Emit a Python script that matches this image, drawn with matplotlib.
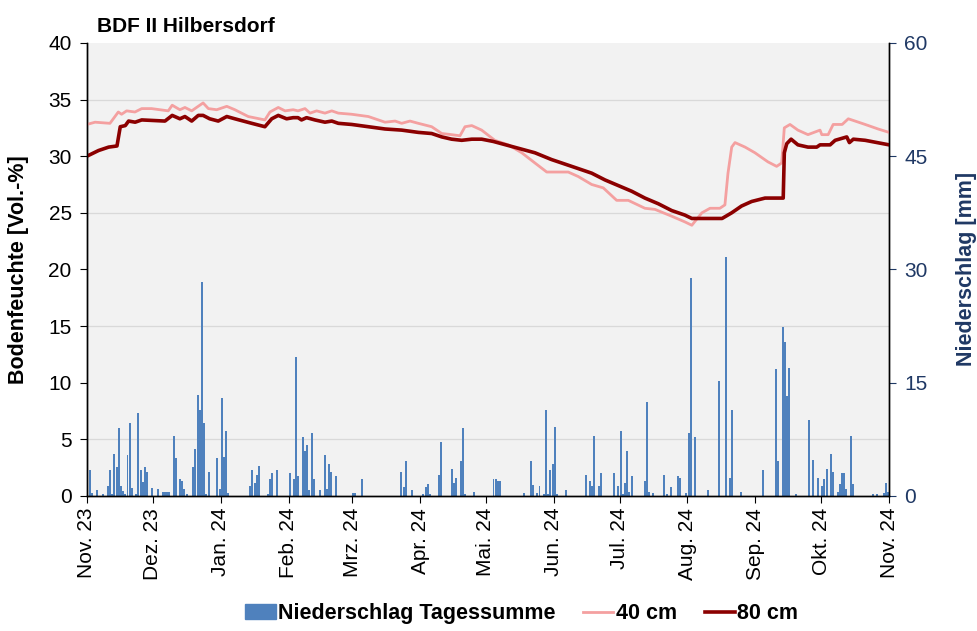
import matplotlib
matplotlib.use("Agg")
import matplotlib.pyplot as plt
from matplotlib.patches import Patch
from matplotlib.lines import Line2D
import numpy as np
import pandas as pd

plt.rcParams['font.family'] = ['Liberation Sans', 'DejaVu Sans']

start = pd.Timestamp("2023-11-01")

# Tagesniederschlag: Tag seit 1.11.2023, Summe in mm
rain_day = [1, 2, 4, 7, 9, 10, 11, 12, 13, 14, 15, 16, 17, 18, 19, 20, 22, 23, 24, 25,
            26, 27, 29, 32, 34, 35, 36, 37, 39, 40, 42, 43, 44, 45, 48, 49, 50, 51, 52, 53,
            54, 55, 59, 60, 61, 62, 63, 64, 74, 75, 76, 77, 78, 82, 83, 84, 86, 92, 94, 95,
            96, 98, 99, 100, 101, 102, 103, 106, 108, 109, 110, 111, 113, 121, 122, 125, 143, 144, 145, 148,
            153, 154, 155, 156, 160, 161, 166, 167, 168, 170, 171, 172, 176, 185, 186, 187, 188, 199, 202, 203,
            205, 206, 208, 209, 210, 211, 212, 213, 214, 218, 227, 229, 230, 231, 233, 234, 240, 242, 243, 244,
            245, 246, 247, 248, 254, 255, 256, 258, 263, 264, 266, 269, 270, 273, 274, 275, 277, 283, 288, 291,
            293, 294, 298, 308, 314, 315, 317, 318, 319, 320, 323, 329, 331, 333, 335, 336, 337, 339, 340, 342,
            343, 344, 345, 346, 348, 349, 358, 360, 363, 364, 365]
rain_mm = [3.5, 0.4, 0.8, 0.2, 1.3, 3.5, 0.2, 5.6, 3.8, 9.0, 1.3, 0.6, 0.2, 5.4, 9.6, 1.1, 0.2, 11.0, 3.5, 1.8,
           3.8, 3.2, 1.1, 0.9, 0.5, 0.5, 0.5, 0.5, 7.9, 5.0, 2.3, 2.0, 0.9, 0.2, 3.8, 6.2, 13.4, 11.4, 28.3, 9.7,
           0.3, 3.2, 5.0, 0.9, 13.0, 5.1, 8.6, 0.4, 1.3, 3.4, 1.7, 2.8, 4.0, 0.2, 2.3, 3.1, 3.4, 3.0, 2.3, 18.4,
           2.6, 7.8, 5.9, 6.8, 0.8, 8.3, 2.3, 0.8, 5.4, 0.9, 4.2, 3.2, 2.6, 0.4, 0.4, 2.3, 3.2, 1.2, 4.6, 0.8,
           0.2, 1.2, 1.6, 0.2, 2.8, 7.1, 3.6, 1.7, 2.4, 4.6, 9.0, 0.3, 0.5, 2.3, 2.3, 2.0, 2.0, 0.4, 4.6, 1.5,
           0.4, 1.3, 0.2, 11.4, 0.2, 3.4, 4.2, 9.1, 0.2, 0.8, 2.8, 2.0, 1.3, 7.9, 1.3, 3.0, 3.0, 1.3, 8.6, 0.2,
           1.7, 5.9, 0.5, 2.6, 2.0, 12.5, 0.5, 0.4, 2.8, 0.3, 1.2, 2.6, 2.4, 0.4, 8.4, 28.8, 7.8, 0.8, 15.2, 31.7,
           2.4, 11.4, 0.5, 3.4, 16.8, 4.6, 22.4, 20.4, 13.2, 17.0, 0.2, 10.1, 4.8, 2.4, 1.3, 2.3, 3.6, 5.6, 3.2, 0.5,
           1.6, 3.0, 3.0, 0.9, 7.9, 1.6, 0.2, 0.2, 0.4, 1.7, 0.5]

# Bodenfeuchte 40 cm
d40_day = [0, 3.7, 10.5, 14.3, 15.8, 18.1, 21.9, 25, 29.5, 37.1, 38.9, 42.4, 44.7, 47.8, 50, 53, 55.4, 59.2,
           63.8, 67.5, 73.6, 81.2, 83.5, 87.3, 90.4, 94.1, 96.3, 99.5, 101.8, 104.8, 108.6, 111.7, 114.7, 120.8,
           128.4, 136, 140.6, 143.6, 147.4, 151.2, 157.3, 161.9, 166.4, 170.2, 172.5, 175.6, 180.1, 186.1, 192.3,
           198.4, 204.4, 209.8, 219.6, 224.2, 230.3, 235.6, 241.7, 247, 254.6, 259.2, 266.8, 272.8, 276, 280.6,
           284.3, 288.8, 291.1, 292.5, 294.2, 295.7, 300.3, 304.8, 310.7, 314.7, 317, 318.2, 320.8, 324.4, 329,
           334.5, 335.3, 338.2, 340.5, 344.6, 347.4, 350.5, 355.1, 361, 366]
d40_val = [32.8, 33.0, 32.9, 33.9, 33.7, 34.0, 33.9, 34.2, 34.2, 34.0, 34.5, 34.1, 34.3, 34.0, 34.3, 34.7, 34.2, 34.1,
           34.4, 34.1, 33.5, 33.2, 33.9, 34.3, 34.0, 34.1, 34.0, 34.2, 33.8, 34.0, 33.8, 34.0, 33.8, 33.7,
           33.5, 33.0, 33.1, 32.9, 33.1, 32.9, 32.6, 32.0, 31.9, 31.8, 32.6, 32.7, 32.3, 31.4, 31.0,
           30.3, 29.4, 28.6, 28.6, 28.2, 27.5, 27.2, 26.1, 26.1, 25.4, 25.3, 24.7, 24.2, 23.9, 25.0,
           25.4, 25.4, 25.7, 28.5, 30.8, 31.2, 30.8, 30.3, 29.5, 29.1, 29.4, 32.5, 32.8, 32.3, 31.9,
           32.3, 31.9, 31.9, 32.8, 32.8, 33.3, 33.1, 32.8, 32.4, 32.1]

# Bodenfeuchte 80 cm
d80_day = [0, 5.3, 9.9, 13.7, 15.2, 17.5, 19, 22, 25, 35.6, 38.9, 42.4, 44.7, 47.8, 50.8, 53, 56, 59.9, 63.8,
           67.5, 75.2, 81.2, 84.3, 87.3, 91.1, 94.1, 96.3, 97.9, 100.2, 104, 108.6, 111.7, 114.7, 120.8, 128.4,
           136, 143.6, 151.2, 157.3, 161.9, 166.4, 171, 175.6, 180.1, 185.4, 189.2, 196.8, 204.4, 212, 216.6,
           222.7, 230.3, 236.4, 242.5, 248.6, 254.6, 260.7, 266.8, 272.8, 276, 281.9, 289.8, 294.2, 298.7, 303.3,
           309.4, 317.7, 318.2, 319.3, 321.3, 324.4, 329, 333, 334.5, 339.1, 341.4, 346.7, 347.9, 349.7, 355.1, 366]
d80_val = [30.0, 30.5, 30.8, 30.9, 32.6, 32.7, 33.1, 33.0, 33.2, 33.1, 33.6, 33.3, 33.5, 33.1, 33.6, 33.6, 33.3, 33.1, 33.5,
           33.3, 32.9, 32.6, 33.3, 33.6, 33.3, 33.4, 33.4, 33.2, 33.4, 33.2, 33.0, 33.1, 32.9, 32.8, 32.6,
           32.4, 32.3, 32.1, 32.0, 31.7, 31.5, 31.4, 31.5, 31.5, 31.3, 31.1, 30.7, 30.3, 29.7, 29.4,
           29.0, 28.5, 27.9, 27.4, 26.9, 26.3, 25.8, 25.2, 24.8, 24.5, 24.5, 24.5, 25.0, 25.6, 26.0,
           26.3, 26.3, 30.3, 31.1, 31.5, 31.0, 30.8, 30.8, 31.0, 31.0, 31.4, 31.7, 31.2, 31.5, 31.4, 31.0]

month_labels = ["Nov. 23", "Dez. 23", "Jan. 24", "Feb. 24", "Mrz. 24", "Apr. 24", "Mai. 24",
                "Jun. 24", "Jul. 24", "Aug. 24", "Sep. 24", "Okt. 24", "Nov. 24"]

blue = "#4F81BD"
pink = "#F4A0A0"
darkred = "#8B0000"
navy = "#1F3864"


def to_dates(days):
    return start + pd.to_timedelta(np.array(days, dtype=float), unit="D")


fig = plt.figure(figsize=(9.77, 6.31), dpi=100)
ax2 = fig.add_axes([0.089, 0.214, 0.821, 0.718])
ax = ax2.twinx()
ax.yaxis.tick_left()
ax.yaxis.set_label_position("left")
ax2.yaxis.tick_right()
ax2.yaxis.set_label_position("right")

# Niederschlag (rechte Achse), Hintergrund + Gitter
ax2.set_facecolor("#F2F2F2")
ax2.bar(to_dates(np.array(rain_day) + 0.5), rain_mm, width=0.9, color=blue, zorder=2)
ax2.set_ylim(0, 60)
ax2.set_yticks(np.arange(0, 61, 15))
ax2.set_yticks(np.arange(0, 61, 7.5), minor=True)
ax2.yaxis.grid(True, which="minor", color="#D9D9D9", linewidth=0.9, zorder=0)
ax2.tick_params(axis="y", which="minor", length=0)
ax2.set_axisbelow(True)
ax2.tick_params(axis="y", labelsize=15, colors=navy, length=5, pad=6, direction="out")
ax2.set_ylabel("Niederschlag [mm]", fontsize=15.5, fontweight="bold", color=navy, labelpad=20)

# Bodenfeuchte (linke Achse)
ax.plot(to_dates(d40_day), d40_val, color=pink, linewidth=2.0)
ax.plot(to_dates(d80_day), d80_val, color=darkred, linewidth=2.6)
ax.set_ylim(0, 40)
ax.set_yticks(np.arange(0, 41, 5))
ax.tick_params(axis="y", labelsize=15, length=5, pad=6, direction="out")
ax.set_ylabel("Bodenfeuchte [Vol.-%]", fontsize=15.5, fontweight="bold", labelpad=14)

ticks = pd.date_range("2023-11-01", "2024-11-01", freq="MS")
ax2.set_xlim(start, pd.Timestamp("2024-11-01"))
ax2.set_xticks(ticks)
ax2.set_xticklabels(month_labels, rotation=90, fontsize=15)
ax2.tick_params(axis="x", length=5, direction="out")

for a in (ax, ax2):
    a.spines["top"].set_visible(False)
    for s in ("left", "right", "bottom"):
        a.spines[s].set_color("black")
        a.spines[s].set_linewidth(1.0)

fig.text(0.099, 0.958, "BDF II Hilbersdorf", fontsize=15, fontweight="bold", ha="left", va="center")

handles = [Patch(color=blue, label="Niederschlag Tagessumme"),
           Line2D([], [], color=pink, linewidth=2.0, label="40 cm"),
           Line2D([], [], color=darkred, linewidth=2.6, label="80 cm")]
fig.legend(handles=handles, loc="center", bbox_to_anchor=(0.534, 0.027), ncol=3, frameon=False,
           prop={"size": 15.5, "weight": "bold"}, handlelength=1.4, handletextpad=0.1, columnspacing=1.3)

fig.savefig("out.png", dpi=100)
